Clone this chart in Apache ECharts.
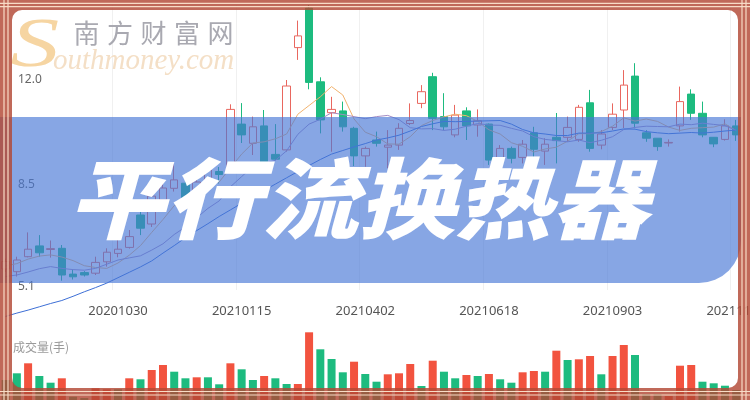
<!DOCTYPE html>
<html>
<head>
<meta charset="utf-8">
<script src="https://cdn.jsdelivr.net/npm/echarts@6/dist/echarts.min.js"></script>
<style>html,body{margin:0;padding:0;background:#fff}#main{width:750px;height:400px}</style>
</head>
<body>
<div id="main"></div>
<script>
// ---- data (weekly K line) ----
const dates = ['20200821','20200828','20200904','20200911','20200918','20200925','20200930','20201009','20201016','20201023',
  '20201030','20201106','20201113','20201120','20201127','20201204','20201211','20201218','20201225','20201231',
  '20210108','20210115','20210122','20210129','20210205','20210210','20210219','20210226','20210305','20210312',
  '20210319','20210326','20210402','20210409','20210416','20210423','20210430','20210507','20210514','20210521',
  '20210528','20210604','20210611','20210618','20210625','20210702','20210709','20210716','20210723','20210730',
  '20210806','20210813','20210820','20210827','20210903','20210910','20210917','20210924','20210930','20211008',
  '20211015','20211022','20211029','20211105','20211112','20211119'];
const openPrices = [5.70,5.61,6.11,6.47,6.35,6.39,5.53,5.58,5.56,5.94,6.22,6.42,7.50,7.20,8.00,8.39,8.56,7.90,8.55,8.95,
  9.00,10.53,9.89,10.47,9.52,9.67,13.08,14.40,11.94,10.91,10.97,10.39,9.47,10.00,9.76,9.83,10.55,11.22,12.11,10.78,
  10.17,10.97,10.50,10.53,9.28,9.72,9.42,10.24,9.63,10.09,10.09,10.02,11.24,9.83,10.42,11.00,12.13,10.24,10.06,9.90,
  10.47,11.53,10.89,10.09,10.02,10.47];
const closePrices = [5.95,6.00,6.36,6.24,6.38,5.50,5.44,5.50,5.92,6.26,6.36,6.78,7.06,8.13,8.40,8.67,7.89,8.60,9.00,8.85,
  11.02,10.17,10.44,9.22,9.36,11.80,13.47,11.92,10.67,11.02,10.44,9.47,9.72,9.89,9.83,10.39,10.65,11.61,10.72,10.44,
  10.83,10.47,10.64,9.33,9.72,9.39,9.86,9.69,9.86,9.98,10.42,11.09,9.72,10.20,10.86,11.83,10.56,10.06,9.78,9.92,
  11.28,10.89,10.17,9.87,10.47,10.17];
const lowPrices = [5.60,5.45,6.09,6.11,6.08,5.31,5.35,5.45,5.50,5.78,6.09,6.38,6.83,7.10,7.90,8.28,7.73,7.80,8.45,8.55,
  8.90,9.90,9.50,9.17,9.33,9.61,12.67,11.69,10.22,9.61,10.28,9.13,9.11,9.78,9.06,9.67,10.50,11.06,10.33,10.33,
  10.09,10.00,10.11,9.17,9.17,9.22,9.22,9.17,9.17,9.22,9.94,9.94,9.61,9.69,10.33,10.40,10.39,9.94,9.64,9.78,
  10.28,10.67,10.09,9.76,9.98,9.97];
const highPrices = [6.05,6.11,6.92,6.83,6.65,6.50,5.67,5.63,6.11,6.39,6.67,7.00,7.61,8.30,8.55,9.22,8.78,8.80,9.20,9.10,
  11.19,11.23,10.78,11.00,10.53,12.00,13.98,14.50,12.09,11.44,11.28,10.44,9.78,10.28,10.33,10.56,11.22,11.83,12.24,11.56,
  11.17,11.09,11.02,10.55,9.83,9.78,10.00,10.44,10.06,10.90,10.78,11.17,11.67,10.33,11.22,12.33,12.56,10.33,10.06,10.02,
  11.78,11.69,11.28,10.10,10.69,10.67];
const ma5 = [5.80,5.88,6.03,6.13,6.17,6.10,5.98,5.81,5.75,5.72,5.90,6.16,6.48,6.92,7.35,7.81,8.03,8.34,8.51,8.60,
  9.07,9.53,9.90,9.94,10.04,10.20,10.86,11.15,11.44,11.78,11.50,10.70,10.26,10.11,9.87,9.86,10.11,10.48,10.65,10.77,
  10.86,10.81,10.62,10.34,10.20,9.91,9.79,9.60,9.70,9.76,9.96,10.21,10.21,10.28,10.46,10.74,10.63,10.70,10.62,10.43,
  10.32,10.39,10.41,10.43,10.54,10.31];
const ma10 = [5.45,5.50,5.60,5.71,5.78,5.72,5.68,5.66,5.72,5.86,6.00,6.07,6.14,6.33,6.54,6.85,7.10,7.41,7.72,7.97,
  8.44,8.78,9.12,9.23,9.32,9.64,10.19,10.53,10.69,10.91,10.85,10.78,10.71,10.78,10.82,10.68,10.41,10.37,10.38,10.32,
  10.36,10.46,10.55,10.50,10.49,10.39,10.30,10.11,10.02,9.98,9.94,10.00,9.91,9.99,10.11,10.35,10.42,10.46,10.45,10.44,
  10.53,10.51,10.56,10.52,10.48,10.32];
const ma20 = [4.12,4.23,4.33,4.44,4.55,4.65,4.79,4.94,5.08,5.23,5.41,5.59,5.77,5.97,6.23,6.48,6.74,6.98,7.21,7.45,
  7.67,7.89,8.11,8.32,8.53,8.74,8.95,9.15,9.35,9.53,9.65,9.77,9.88,10.00,10.07,10.16,10.30,10.45,10.54,10.62,
  10.61,10.62,10.63,10.64,10.65,10.53,10.35,10.24,10.20,10.15,10.15,10.23,10.23,10.24,10.30,10.37,10.36,10.28,10.24,10.21,
  10.23,10.25,10.23,10.26,10.30,10.33];
const volumes = [20,26.7,36.7,24,17.3,21.7,3.3,2,11.7,10.7,10.7,21.7,20.7,30,35,28.3,21.7,22.7,22.7,15.7,
  36.7,30.7,20,24,21.7,16,16,67.7,50.7,41,27.7,38.3,26,18.3,25.7,26.7,36,14,39.3,28.3,
  21.7,25,24,26,20.7,17.3,27.7,29,28.3,49.3,40,40.7,44,25.7,44,55,45,6,6,4,
  34.3,35,18.3,16.7,14.3,10];
const volumeUp = [0,0,1,0,0,1,0,0,1,1,0,1,0,1,1,0,0,1,0,0,
  1,0,0,1,0,0,1,1,0,0,0,1,0,0,1,1,1,0,1,0,
  0,1,0,1,0,0,1,1,0,1,0,1,1,0,1,1,0,0,0,1,
  1,1,0,0,0,0];
const priceTicks = [12.0, 8.5, 5.1];
const titleText = '平行流换热器';
const siteName = '南方财富网';

// ---- chart ----
const RED = '#f2533f', GREEN = '#1dbb7f';
const labelIdx = (i) => i % 11 === 10;
const chart = echarts.init(document.getElementById('main'), null, {renderer: 'canvas'});

const candleData = dates.map((d, i) => [openPrices[i], closePrices[i], lowPrices[i], highPrices[i]]);
const volData = volumes.map((v, i) => ({value: v, itemStyle: {color: volumeUp[i] ? RED : GREEN}}));

const frameColor = 'rgba(178,72,52,0.82)';
const lineColor = '#f8dcc6';
const graphics = [
  // blue banner
  {type: 'rect', z: 50, shape: {x: -20, y: 117, width: 761, height: 166, r: [0, 0, 42, 0]},
   style: {fill: 'rgba(70,118,214,0.65)'}},
  // title
  {type: 'text', z: 60, x: 398, y: 199, scaleX: 1.1, originX: 398, originY: 199,
   style: {text: titleText, fill: '#ffffff', fontSize: 88, fontWeight: 900, fontStyle: 'italic',
     fontFamily: 'Noto Sans CJK SC', align: 'center', verticalAlign: 'middle',
     textAlign: 'center', textVerticalAlign: 'middle'}},
  // volume label
  {type: 'text', z: 40, x: 13, y: 347,
   style: {text: '成交量(手)', fill: '#9a9a9a', fontSize: 12, fontFamily: 'Noto Sans CJK SC',
     verticalAlign: 'middle', textVerticalAlign: 'middle'}},
  // watermark S
  {type: 'text', z: 40, x: 17, y: 48, scaleX: 1.4, originX: 17, originY: 48,
   style: {text: 'S', fill: '#f6d5a2', fontSize: 70, fontStyle: 'italic', fontFamily: 'Liberation Serif',
     verticalAlign: 'middle', textVerticalAlign: 'middle'}},
  {type: 'text', z: 40, x: 53, y: 61,
   style: {text: 'outhmoney.com', fill: '#f4dfc6', fontSize: 29, fontStyle: 'italic', fontFamily: 'Liberation Serif',
     verticalAlign: 'middle', textVerticalAlign: 'middle'}},
  // frame band
  {type: 'rect', z: 70, shape: {x: 0, y: -2, width: 750, height: 402, r: 22},
   style: {fill: 'none', stroke: frameColor, lineWidth: 24}},
];
siteName.split('').forEach((ch, i) => {
  graphics.push({type: 'text', z: 40, x: 86.5 + i * 33.5, y: 33,
    style: {text: ch, fill: '#a9a9b1', fontSize: 26, fontFamily: 'Noto Sans CJK SC',
      align: 'center', verticalAlign: 'middle', textAlign: 'center', textVerticalAlign: 'middle'}});
});
// thin light lines in the frame
[3.3, 6.7, 391.5, 395].forEach(y => graphics.push({type: 'line', z: 71,
  shape: {x1: 0, y1: y, x2: 750, y2: y}, style: {stroke: lineColor, lineWidth: 1.2}}));
[4, 8, 742, 746].forEach(x => graphics.push({type: 'line', z: 71,
  shape: {x1: x, y1: 0, x2: x, y2: 400}, style: {stroke: lineColor, lineWidth: 1.2}}));

const option = {
  animation: false,
  backgroundColor: '#ffffff',
  grid: [
    {left: 0, right: 8.2, top: 5, height: 285, containLabel: false, outerBoundsMode: 'none'},
    {left: 0, right: 8.2, top: 330, height: 70, containLabel: false, outerBoundsMode: 'none'}
  ],
  xAxis: [
    {type: 'category', gridIndex: 0, data: dates, boundaryGap: true,
     axisLine: {show: false}, axisTick: {show: false},
     axisLabel: {interval: labelIdx, color: '#555', fontSize: 13, margin: 15, fontFamily: 'Noto Sans', hideOverlap: false},
     splitLine: {show: true, interval: labelIdx, lineStyle: {color: '#f0f0f0'}}},
    {type: 'category', gridIndex: 1, data: dates, boundaryGap: true, show: false}
  ],
  yAxis: [
    {type: 'value', gridIndex: 0, min: 5.0, max: 14.5, position: 'left',
     axisLine: {show: false}, axisTick: {show: false}, splitLine: {show: false},
     axisLabel: {inside: true, margin: 18, color: '#666', fontSize: 12, fontFamily: 'Noto Sans',
       customValues: priceTicks, formatter: (v) => Number(v).toFixed(1)}},
    {type: 'value', gridIndex: 1, min: 0, max: 70, show: false}
  ],
  series: [
    {type: 'candlestick', xAxisIndex: 0, yAxisIndex: 0, data: candleData, barWidth: 8, clip: false,
     itemStyle: {color: 'transparent', color0: GREEN, borderColor: '#e9675f', borderColor0: GREEN, borderWidth: 1}},
    {type: 'line', name: 'MA5', data: ma5, showSymbol: false, clip: false,
     lineStyle: {color: '#f2b36f', width: 1}},
    {type: 'line', name: 'MA10', data: ma10, showSymbol: false, clip: false,
     lineStyle: {color: '#a48cc4', width: 1}},
    {type: 'line', name: 'MA20', data: ma20, showSymbol: false, clip: false,
     lineStyle: {color: '#3d6fd6', width: 1}},
    {type: 'bar', xAxisIndex: 1, yAxisIndex: 1, data: volData, barWidth: 8}
  ],
  graphic: {elements: graphics}
};
chart.setOption(option);
</script>
</body>
</html>
